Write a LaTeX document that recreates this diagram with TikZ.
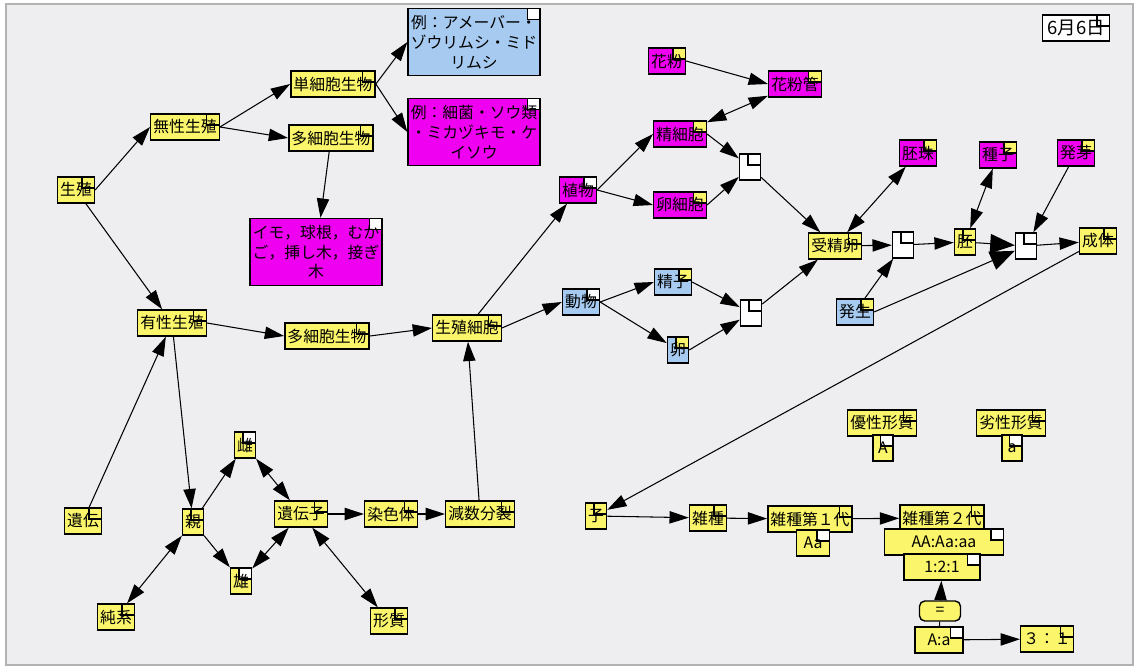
\documentclass[tikz,border=0pt]{standalone}
\usepackage{fontspec}
\setmainfont{Noto Sans CJK JP}
\usetikzlibrary{arrows.meta}
\definecolor{cmyel}{HTML}{FAF56A}
\definecolor{cmmag}{HTML}{F000F0}
\definecolor{cmblu}{HTML}{A6CAF0}
\definecolor{cmbg}{HTML}{EEEDF0}
\tikzset{
  mapbox/.style={draw, line width=0.8pt, inner xsep=1.5pt, inner ysep=0pt,
    minimum height=0.52cm, font=\fontsize{9}{11.3}\selectfont},
  cornerbox/.style={path picture={\draw[fill=#1,line width=0.7pt]
    (path picture bounding box.north east) rectangle ++(-0.25cm,-0.22cm);}},
  yy/.style={mapbox, fill=cmyel, cornerbox=cmyel},
  yw/.style={mapbox, fill=cmyel, cornerbox=white},
  my/.style={mapbox, fill=cmmag, cornerbox=cmyel},
  mw/.style={mapbox, fill=cmmag, cornerbox=white},
  by/.style={mapbox, fill=cmblu, cornerbox=cmyel},
  bw/.style={mapbox, fill=cmblu, cornerbox=white},
  joint/.style={mapbox, fill=white, cornerbox=white, minimum width=0.42cm},
  memo/.style={align=center, minimum width=2.6cm, minimum height=1.34cm},
  arr/.style={-{Triangle[length=11pt,width=7pt]}, line width=0.6pt},
  bigarr/.style={-{Triangle[length=14pt,width=11pt]}, line width=0.6pt},
  twoway/.style={{Triangle[length=11pt,width=7pt]}-{Triangle[length=11pt,width=7pt]}, line width=0.6pt},
}
\begin{document}
\begin{tikzpicture}[x=0.02cm,y=-0.02cm]
\useasboundingbox (0,0) rectangle (1136,666);
\fill[white] (0,0) rectangle (1136,666);
\draw[gray!60, fill=cmbg, line width=1pt] (6,4) rectangle (1133,665);
\node[mapbox, fill=white, cornerbox=white, minimum width=1.34cm,
  font=\fontsize{10.5}{12}\selectfont] (date) at (1076,28) {6月6日};
% asexual side
\node[yy] (sei) at (76,190) {生殖};
\node[yy] (mu) at (185,127) {無性生殖};
\node[yy] (tan) at (333,84) {単細胞生物};
\node[yy] (ta1) at (331,138) {多細胞生物};
\node[bw, memo] (ex1) at (474,42) {例：アメーバー・\\ゾウリムシ・ミド\\リムシ};
\node[mw, memo] (ex2) at (474,132) {例：細菌・ソウ類\\・ミカヅキモ・ケ\\イソウ};
\node[mw, memo, minimum width=2.62cm] (imo) at (316,252) {イモ，球根，むか\\ご，挿し木，接ぎ\\木};
% sexual side
\node[yy] (yusei) at (172,323) {有性生殖};
\node[yy] (ta2) at (327,336) {多細胞生物};
\node[yy] (gamete) at (467,328) {生殖細胞};
\node[mw] (shoku) at (578,190) {植物};
\node[my] (kafun) at (667,61) {花粉};
\node[my] (kafunkan) at (795,84) {花粉管};
\node[my] (seisai) at (680,134) {精細胞};
\node[my] (ransai) at (680,205) {卵細胞};
\node[joint] (ja) at (750,167) {};
\node[bw] (dobutsu) at (581,302) {動物};
\node[by] (seishi) at (673,282) {精子};
\node[by] (ran) at (678,350) {卵};
\node[joint] (jd) at (751,313) {};
\node[yy] (jusei) at (835,246) {受精卵};
\node[my] (haishu) at (918,153) {胚珠};
\node[my] (shushi) at (998,155) {種子};
\node[my] (hatsuga) at (1076,153) {発芽};
\node[joint] (jb) at (903,245) {};
\node[yy] (hai) at (965,242) {胚};
\node[joint] (jc) at (1026,246) {};
\node[yy] (seitai) at (1098,241) {成体};
\node[by] (hassei) at (855,312) {発生};
% heredity
\node[yy] (iden) at (83,521) {遺伝};
\node[yy] (oya) at (193,522) {親};
\node[yw] (mesu) at (245,445) {雌};
\node[yw] (osu) at (241,581) {雄};
\node[yy] (idenshi) at (301,514) {遺伝子};
\node[yy] (senshoku) at (391,514) {染色体};
\node[yy] (gensu) at (480,514) {減数分裂};
\node[yy] (junkei) at (116,617) {純系};
\node[yy] (keishitsu) at (389,621) {形質};
% Mendel
\node[yy] (yuusei) at (882,423) {優性形質};
\node[yw, minimum width=0.4cm] (bigA) at (883,448) {A};
\node[yy] (ressei) at (1011,423) {劣性形質};
\node[yw, minimum width=0.4cm] (smalla) at (1012,448) {a};
\node[yy] (ko) at (596,516) {子};
\node[yy] (zasshu) at (708,518) {雑種};
\node[yy] (f1) at (810,519) {雑種第１代};
\node[yw, minimum width=0.66cm] (aa1) at (813,543) {Aa};
\node[yy] (f2) at (942,518) {雑種第２代};
\node[yw, minimum width=2.38cm] (geno) at (944,542) {AA:Aa:aa};
\node[yw, minimum width=1.52cm] (ratio) at (942,567) {1:2:1};
\node[draw, line width=0.8pt, fill=cmyel, rounded corners=3pt, minimum width=0.82cm,
  minimum height=0.4cm, inner sep=0pt, font=\fontsize{9}{11}\selectfont] (eq) at (940,611) {=};
\node[yw, minimum width=0.96cm] (aratio) at (939,640) {A:a};
\node[yy, minimum width=0.96cm] (thr) at (1047,639) {３：１};
% connectors
\foreach \a/\b in {sei.east/mu.west, mu.east/tan.west, mu.east/ta1.west,
  tan.east/ex1.west, tan.east/ex2.west, ta1/imo, sei/yusei, iden/yusei,
  yusei.east/ta2.west, yusei/oya, ta2.east/gamete.west, gensu/gamete,
  gamete/shoku, gamete.east/dobutsu.west, shoku.east/seisai.west,
  shoku.east/ransai.west, kafun.east/kafunkan.west, seisai.east/ja,
  ransai.east/ja, ja/jusei, dobutsu.east/seishi.west, dobutsu.east/ran,
  seishi.east/jd, ran.east/jd, jd/jusei, jusei/jb, hassei/jb, jb/hai,
  hatsuga/jc, jc/seitai, seitai/ko, ko/zasshu, zasshu/f1, f1/f2,
  eq/ratio, aratio/thr, oya/mesu, oya/osu, idenshi/senshoku, senshoku/gensu}
  \draw[arr] (\a) -- (\b);
\foreach \a/\b in {kafunkan/seisai, haishu/jusei, shushi/hai,
  mesu/idenshi, osu/idenshi, oya/junkei, idenshi/keishitsu}
  \draw[twoway] (\a) -- (\b);
\draw[bigarr] (hai) -- (jc);
\draw[bigarr] (hassei.east) -- (jc);
\draw[line width=0.6pt] (eq) -- (aratio);
\end{tikzpicture}
\end{document}
